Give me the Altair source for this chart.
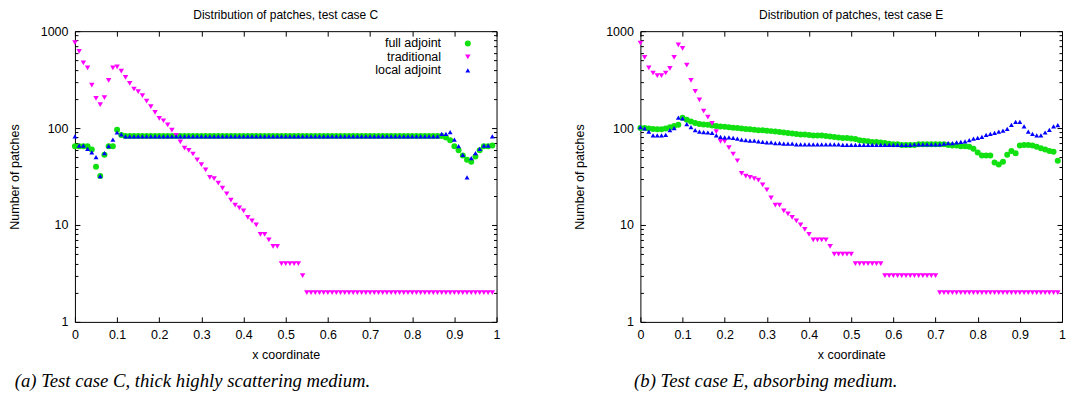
import altair as alt
import pandas as pd

# ---------------- data ----------------
x_coord = [round(i * 0.01, 2) for i in range(100)]

series_names = ["full adjoint", "traditional", "local adjoint"]
series_colors = ["#11e011", "#ff00ff", "#0000ff"]
series_shapes = ["circle", "triangle-down", "triangle-up"]
series_sizes = [36, 24, 24]

x_ticks = [0, 0.1, 0.2, 0.3, 0.4, 0.5, 0.6, 0.7, 0.8, 0.9, 1]
y_major = [1, 10, 100, 1000]
y_minor = [2, 3, 4, 5, 6, 7, 8, 9, 20, 30, 40, 50, 60, 70, 80, 90,
           200, 300, 400, 500, 600, 700, 800, 900]

# test case C
full_C = ([65, 65, 65, 65, 60, 40, 32, 53, 65, 65, 96, 85]
          + [83] * 75
          + [83, 80, 75, 65, 59, 52, 47, 45, 51, 59, 65, 65, 66])
trad_C = ([760, 620, 470, 418, 278, 203, 175, 206, 310, 418, 427, 386, 333, 290,
           253, 238, 216, 190, 166, 145, 126, 119, 108, 95, 84, 72, 62, 59, 54,
           47, 42, 37, 31, 30, 27, 24, 21, 18, 16, 15, 14, 12, 11, 10, 8, 8, 7,
           6, 6, 4, 4, 4, 4, 4, 3]
          + [2] * 45)
local_C = ([82, 66, 66, 61, 56, 50, 32, 55, 65, 76, 90, 86]
           + [82] * 75
           + [87, 87, 91, 76, 65, 53, 31, 49, 55, 61, 66, 66, 82])

# test case E
full_E = [100, 100, 99, 98, 97, 97, 99, 102, 105, 108, 128, 122, 117, 113, 110,
          109, 108, 106, 105, 104, 103, 102, 101, 100, 99, 98, 97, 96, 95, 95,
          94, 93, 92, 91, 90, 89, 88, 87, 86, 86, 85, 84, 84, 84, 83, 82, 81,
          80, 79, 79, 78, 77, 75, 74, 73, 72, 72, 71, 70, 69, 68, 68, 67, 67,
          67, 67, 68, 68, 68, 68, 68, 68, 68, 67, 66, 66, 65, 65, 64, 61, 56,
          52, 52, 52, 44, 42, 45, 53, 58, 55, 66, 67, 67, 66, 64, 62, 60, 58,
          57, 46]
trad_E = ([752, 537, 418, 370, 347, 347, 370, 414, 535, 720, 665, 447, 311, 239,
           195, 150, 130, 112, 92, 73, 73, 63, 54, 46, 34, 32, 31, 30, 29, 26,
           23, 19, 16, 16, 14, 13, 12, 11, 10, 9, 8, 7, 7, 7, 7, 6, 5, 5, 5, 5,
           5, 4, 4, 4, 4, 4, 4, 4]
          + [3] * 13
          + [2] * 29)
local_E = [102, 99, 92, 84, 84, 84, 85, 95, 100, 128, 126, 110, 102, 95, 92, 91,
           90, 89, 84, 81, 80, 80, 79, 78, 76, 75, 74, 74, 73, 72, 71, 71, 70,
           70, 69, 69, 69, 68, 68, 68, 68, 68, 68, 68, 68, 68, 68, 68, 67, 67,
           67, 67, 67, 67, 67, 67, 67, 67, 67, 67, 67, 67, 67, 67, 67, 68, 68,
           68, 68, 68, 68, 68, 69, 70, 70, 71, 72, 73, 75, 78, 79, 81, 85, 87,
           89, 92, 94, 98, 108, 116, 116, 104, 92, 87, 84, 84, 90, 96, 104, 107]

FONT = "Liberation Sans"
FS = 12.5
PW, PH = 422, 291


def panel(full, trad, local, title, caption, cap_dx):
    rows = []
    for name, vals in zip(series_names, [full, trad, local]):
        for xv, v in zip(x_coord, vals):
            rows.append({"x": xv, "n": v, "method": name})
    df = pd.DataFrame(rows)

    xs = alt.Scale(domain=[0, 1], nice=False, zero=False)
    ys = alt.Scale(type="log", domain=[1, 1000], nice=False)
    common = dict(domain=False, grid=False, tickColor="black", tickWidth=1,
                  labelFlush=False, labelOverlap=False, labelBound=False)

    leg = alt.Legend(title=None, orient="none", legendX=387, legendY=6,
                     labelAlign="right", labelOffset={"expr": "-33"},
                     labelFontSize=FS, labelFont=FONT, labelColor="black",
                     rowPadding=0.5, padding=0, symbolStrokeWidth=0,
                     symbolOpacity=1)

    base = alt.Chart(df)
    pts = base.mark_point(filled=True, opacity=1, strokeWidth=0).encode(
        x=alt.X("x:Q", scale=xs, axis=alt.Axis(
            orient="bottom", values=x_ticks, format="~g", tickSize=5, offset=-5,
            labelPadding=7, labelFontSize=FS, labelFont=FONT, labelColor="black",
            title="x coordinate", titleFont=FONT, titleFontSize=FS,
            titleFontWeight="normal", titleColor="black", titlePadding=7,
            **common)),
        y=alt.Y("n:Q", scale=ys, axis=alt.Axis(
            orient="left", values=y_major, format="~g", tickSize=5, offset=-5,
            labelPadding=7, labelFontSize=FS, labelFont=FONT, labelColor="black",
            title="Number of patches", titleFont=FONT, titleFontSize=FS,
            titleFontWeight="normal", titleColor="black", titlePadding=19,
            **common)),
        color=alt.Color("method:N", scale=alt.Scale(domain=series_names, range=series_colors), legend=leg),
        shape=alt.Shape("method:N", scale=alt.Scale(domain=series_names, range=series_shapes), legend=leg),
        size=alt.Size("method:N", scale=alt.Scale(domain=series_names, range=series_sizes), legend=leg),
    )
    mirror = base.mark_point(opacity=0).encode(
        x=alt.X("x:Q", scale=xs, axis=alt.Axis(
            orient="top", values=x_ticks, labels=False, tickSize=5, offset=-5,
            title=None, **common)),
        y=alt.Y("n:Q", scale=ys, axis=alt.Axis(
            orient="right", values=y_major, labels=False, tickSize=5, offset=-5,
            title=None, **common)),
    )
    minor_l = base.mark_point(opacity=0).encode(
        x=alt.X("x:Q", scale=xs, axis=None),
        y=alt.Y("n:Q", scale=ys, axis=alt.Axis(
            orient="left", values=y_minor, labels=False, tickSize=3, offset=-3,
            title=None, **common)),
    )
    minor_r = base.mark_point(opacity=0).encode(
        x=alt.X("x:Q", scale=xs, axis=None),
        y=alt.Y("n:Q", scale=ys, axis=alt.Axis(
            orient="right", values=y_minor, labels=False, tickSize=3, offset=-3,
            title=None, **common)),
    )
    layered = alt.layer(pts, mirror, minor_l, minor_r).resolve_axis(
        x="independent", y="independent"
    ).properties(
        width=PW, height=PH,
        title=alt.Title(title, font=FONT, fontSize=12, fontWeight="normal",
                        color="black", anchor="middle", frame="group", offset=3),
    )
    return alt.vconcat(layered, title=alt.Title(
        caption, orient="bottom", anchor="start", dx=cap_dx,
        font="Liberation Serif", fontStyle="italic", fontSize=18.7,
        fontWeight="normal", color="black", offset=11))


left = panel(full_C, trad_C, local_C, "Distribution of patches, test case C",
             "(a) Test case C, thick highly scattering medium.", 7)
right = panel(full_E, trad_E, local_E, "Distribution of patches, test case E",
              "(b) Test case E, absorbing medium.", 61)

chart = alt.hconcat(left, right, spacing=72).configure_view(
    stroke="black", strokeWidth=1
).properties(
    padding={"left": -1, "top": 0, "right": 0, "bottom": 0},
    background="white",
)

chart.save("out.html", embed_options={"renderer": "svg", "actions": False})
